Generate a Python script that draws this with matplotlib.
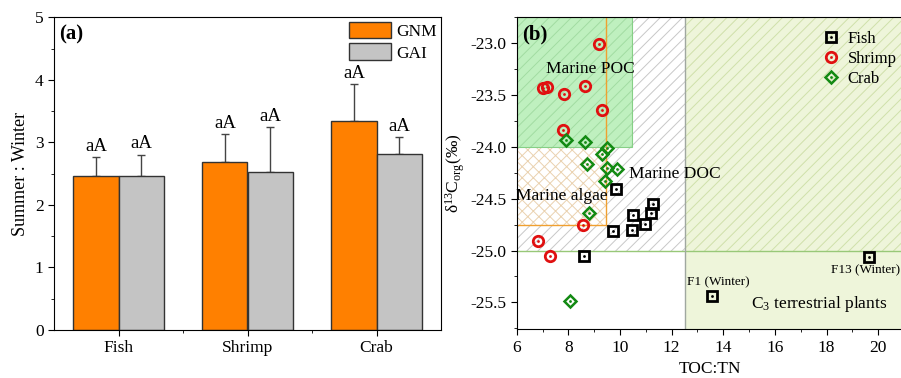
import matplotlib
matplotlib.use('Agg')
import matplotlib.pyplot as plt
from matplotlib.patches import Rectangle
from matplotlib.ticker import MultipleLocator, FixedLocator, FormatStrFormatter
import numpy as np

plt.rcParams['font.family'] = ['Liberation Serif', 'DejaVu Serif']
plt.rcParams['mathtext.fontset'] = 'custom'
plt.rcParams['mathtext.rm'] = 'Liberation Serif'
plt.rcParams['mathtext.it'] = 'Liberation Serif:italic'
plt.rcParams['axes.unicode_minus'] = False
plt.rcParams['hatch.linewidth'] = 0.7

# panel (a) data
groups = ['Fish', 'Shrimp', 'Crab']
gnm = [2.47, 2.68, 3.34]
gnm_err = [0.29, 0.45, 0.59]
gai = [2.47, 2.53, 2.81]
gai_err = [0.33, 0.71, 0.27]
letters_gnm = ['aA', 'aA', 'aA']
letters_gai = ['aA', 'aA', 'aA']

# panel (b) data: TOC:TN vs d13C
fish_x = [9.83, 10.50, 11.29, 11.22, 10.97, 9.74, 10.45, 8.61, 13.55, 19.65]
fish_y = [-24.41, -24.66, -24.55, -24.64, -24.74, -24.81, -24.80, -25.05, -25.44, -25.06]
shrimp_x = [9.20, 7.03, 7.16, 7.82, 8.63, 9.29, 7.80, 8.58, 6.81, 7.30]
shrimp_y = [-23.01, -23.43, -23.42, -23.49, -23.41, -23.64, -23.84, -24.75, -24.91, -25.05]
crab_x = [7.90, 8.66, 9.48, 9.29, 8.73, 9.48, 9.90, 9.42, 8.79, 8.05]
crab_y = [-23.93, -23.955, -24.01, -24.07, -24.17, -24.20, -24.215, -24.33, -24.64, -25.49]

fig = plt.figure(figsize=(9.01, 3.78), dpi=100)

# ---------------- (a) ----------------
ax1 = fig.add_axes([54 / 901, 48 / 378, 387 / 901, 312.7 / 378])
pos = np.arange(1, len(groups) + 1)
w = 0.35
ax1.bar(pos - w / 2, gnm, w, color='#ff8000', edgecolor='#333333', linewidth=1.0, label='GNM', zorder=2)
ax1.bar(pos + w / 2, gai, w, color='#c4c4c4', edgecolor='#333333', linewidth=1.0, label='GAI', zorder=2)
ax1.errorbar(pos - w / 2, gnm, yerr=[np.zeros(3), gnm_err], fmt='none', ecolor='#444444',
             elinewidth=1.0, capsize=3, capthick=1.0, zorder=1)
ax1.errorbar(pos + w / 2, gai, yerr=[np.zeros(3), gai_err], fmt='none', ecolor='#444444',
             elinewidth=1.0, capsize=3, capthick=1.0, zorder=1)
for i in range(3):
    ax1.text(pos[i] - w / 2, gnm[i] + gnm_err[i] + 0.04, letters_gnm[i], ha='center', va='bottom', fontsize=13.5)
    ax1.text(pos[i] + w / 2, gai[i] + gai_err[i] + 0.04, letters_gai[i], ha='center', va='bottom', fontsize=13.5)

ax1.set_xlim(0.5, 3.5)
ax1.set_ylim(0, 5)
ax1.set_xticks(pos)
ax1.set_xticklabels(groups)
ax1.xaxis.set_minor_locator(FixedLocator([1.5, 2.5]))
ax1.yaxis.set_major_locator(MultipleLocator(1))
ax1.yaxis.set_minor_locator(MultipleLocator(0.5))
ax1.tick_params(axis='both', which='both', direction='out', labelsize=12.5)
ax1.tick_params(which='major', length=4)
ax1.tick_params(which='minor', length=2.5)
ax1.set_ylabel('Summer : Winter', fontsize=13)
ax1.text(0.012, 0.945, '(a)', transform=ax1.transAxes, fontsize=15, fontweight='bold', ha='left', va='center')
ax1.legend(loc='upper right', frameon=False, fontsize=12.5, handlelength=2.4, handleheight=1.1,
           handletextpad=0.3, labelspacing=0.2, borderaxespad=0.15, borderpad=0.1)

# ---------------- (b) ----------------
ax2 = fig.add_axes([516.7 / 901, 48.7 / 378, 387.3 / 901, 312 / 378])
x0, x1 = 6, 21
y0, y1 = -25.76, -22.75
ax2.set_xlim(x0, x1)
ax2.set_ylim(y0, y1)

# C3 terrestrial plants region
ax2.add_patch(Rectangle((12.5, y0), x1 - 12.5, y1 - y0, facecolor='#eef5da', edgecolor='none', zorder=0))
ax2.add_patch(Rectangle((12.5, -25.0), x1 - 12.5, y1 + 25.0, facecolor='none', edgecolor='#cfe0aa',
                        hatch='///', linewidth=0, zorder=0.5))
# marine DOC region
ax2.add_patch(Rectangle((x0, -25.0), 12.5 - x0, y1 + 25.0, facecolor='none', edgecolor='#c8c8c8',
                        hatch='///', linewidth=0, zorder=0.5))
# marine algae region
ax2.add_patch(Rectangle((x0, -24.75), 9.45 - x0, y1 + 24.75, facecolor='white', edgecolor='none', zorder=0.6))
ax2.add_patch(Rectangle((x0, -24.75), 9.45 - x0, y1 + 24.75, facecolor='none', edgecolor='#ead2b0',
                        hatch='xxx', linewidth=0, zorder=0.7))
# marine POC region
ax2.add_patch(Rectangle((x0, -24.0), 10.45 - x0, y1 + 24.0, facecolor='#bff0bf', edgecolor='none', zorder=0.8))
ax2.add_patch(Rectangle((x0, -24.0), 10.45 - x0, y1 + 24.0, facecolor='none', edgecolor='#a2dca2',
                        hatch='///', linewidth=0, zorder=0.9))
ax2.add_patch(Rectangle((x0, -24.0), 10.45 - x0, y1 + 24.0, facecolor='none', edgecolor='#86cf86',
                        linewidth=0.8, zorder=0.95))
# boundary lines
ax2.plot([9.45, 9.45], [-24.75, y1], color='#f0a030', lw=1.0, zorder=1)
ax2.plot([x0, 9.45], [-24.75, -24.75], color='#f0a030', lw=1.0, zorder=1)
ax2.plot([x0, x1], [-25.0, -25.0], color='#98c878', lw=1.0, zorder=1)
ax2.plot([12.5, 12.5], [y0, y1], color='#a0a8a0', lw=1.0, zorder=1)

# points: open marker with a small dot in the centre
def pts(x, y, marker, color, ms, mew):
    h1, = ax2.plot(x, y, linestyle='none', marker=marker, markersize=ms, markerfacecolor='none',
                   markeredgecolor=color, markeredgewidth=mew, zorder=3)
    h2, = ax2.plot(x, y, linestyle='none', marker='o', markersize=2.0, markerfacecolor=color,
                   markeredgecolor=color, markeredgewidth=0, zorder=3)
    return (h1, h2)

hf = pts(fish_x, fish_y, 's', 'black', 6.5, 2.0)
hs = pts(shrimp_x, shrimp_y, 'o', '#e01010', 7.5, 2.0)
hc = pts(crab_x, crab_y, 'D', '#138a13', 6.5, 1.8)

ax2.legend([hf, hs, hc], ['Fish', 'Shrimp', 'Crab'], loc='upper left', bbox_to_anchor=(0.755, 1.0),
           frameon=False, fontsize=12, handlelength=1.0, handletextpad=0.5, labelspacing=0.25,
           borderpad=0.3)

ax2.text(8.85, -23.25, 'Marine POC', ha='center', va='center', fontsize=12.5, zorder=4)
ax2.text(12.13, -24.26, 'Marine DOC', ha='center', va='center', fontsize=12.5, zorder=4)
ax2.text(7.75, -24.47, 'Marine algae', ha='center', va='center', fontsize=12.5, zorder=4)
ax2.text(13.79, -25.31, 'F1 (Winter)', ha='center', va='center', fontsize=9.5, zorder=4)
ax2.text(19.52, -25.19, 'F13 (Winter)', ha='center', va='center', fontsize=9.5, zorder=4)
ax2.text(17.73, -25.52, 'C$_3$ terrestrial plants', ha='center', va='center', fontsize=12.5, zorder=4)
ax2.text(0.013, 0.945, '(b)', transform=ax2.transAxes, fontsize=15, fontweight='bold', ha='left', va='center', zorder=4)

ax2.xaxis.set_major_locator(MultipleLocator(2))
ax2.xaxis.set_minor_locator(MultipleLocator(1))
ax2.yaxis.set_major_locator(MultipleLocator(0.5))
ax2.yaxis.set_minor_locator(MultipleLocator(0.25))
ax2.yaxis.set_major_formatter(FormatStrFormatter('%.1f'))
ax2.tick_params(axis='both', which='both', direction='out', labelsize=12.5)
ax2.tick_params(which='major', length=4)
ax2.tick_params(which='minor', length=2.5)
ax2.set_xlabel('TOC:TN', fontsize=12.5)
ax2.set_ylabel('δ$^{13}$C$_{\\mathrm{org}}$(‰)', fontsize=12.5, labelpad=2)
ax2.spines['right'].set_visible(False)

fig.savefig('out.png', dpi=100)
